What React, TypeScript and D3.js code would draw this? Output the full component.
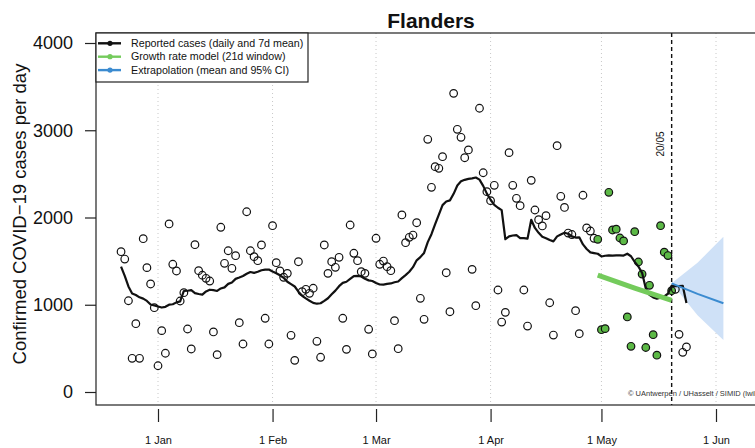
import React, { useEffect, useRef } from "react";
import * as d3 from "d3";

// daily reported cases, first value is 22 Dec 2020 (day -10 counted from 1 Jan 2021)
const firstDay = -10;
const reportedCases = [
  1608, 1524, 1046, 386, 783, 386, 1757, 1425, 1238, 966,
  301, 703, 444, 1926, 1464, 1387, 1043, 1138, 722, 493,
  1688, 1390, 1338, 1303, 1272, 688, 428, 1888, 1475, 1619,
  1418, 1562, 794, 550, 2066, 1619, 1551, 1505, 1685, 845,
  550, 1906, 1482, 1387, 1315, 1360, 650, 363, 1493, 1150,
  1177, 1131, 1189, 581, 398, 1685, 1360, 1493, 1429, 1544,
  845, 489, 1914, 1590, 1505, 1379, 1360, 719, 436, 1762,
  1464, 1501, 1436, 1390, 817, 496, 2029, 1711, 1773, 1799,
  1940, 1074, 833, 2896, 2346, 2582, 2564, 2697, 1367, 920,
  3423, 3011, 2919, 2685, 2774, 1406, 989, 3252, 2513, 2296,
  2193, 2369, 1169, 802, 913, 2743, 2369, 2220, 2135, 1169,
  756, 2426, 2086, 1975, 1903, 2021, 1023, 653, 2823, 2243,
  2115, 1822, 1805, 932, 668, 2255, 1880, 1845, 1762, 1750,
  714, 726, 2289, 1857, 1866, 1765, 1731, 860, 524, 1837,
  1490, 1352, 510, 1223, 657, 422, 1906, 1602, 1564, 1161,
  1177, 661, 455, 516,
];
// 7d mean for the first six days (their window starts before the plotted data)
const earlyMean = [1436, 1330, 1210, 1130, 1112, 1085];

const modelStartDay = 119;
const referenceDay = 139; // 20/05

const growthDays = [119, 129, 139];
const growthValues = [1340, 1190, 1050];

const extrapDays = [139, 146, 153];
const extrapMean = [1245, 1125, 1017];
const extrapLower = [1245, 880, 596];
const extrapUpper = [1245, 1480, 1780];

const monthStarts = [0, 31, 59, 90, 120, 151];
const monthLabels = ["1 Jan", "1 Feb", "1 Mar", "1 Apr", "1 May", "1 Jun"];
const yTicks = [0, 1000, 2000, 3000, 4000];

const legendLabels = [
  "Reported cases (daily and 7d mean)",
  "Growth rate model (21d window)",
  "Extrapolation (mean and 95% CI)",
];

const BLACK = "#111";
const GREEN_LINE = "#74cb5c";
const GREEN_PT = "#5cb946";
const BLUE = "#3b8bd0";
const CI_FILL = "#cfe1f7";
const FONT = "'Liberation Sans', Arial, Helvetica, sans-serif";

const dayToDate = (d: number) => new Date(Date.UTC(2021, 0, 1 + d));

const FlandersChart = () => {
  const ref = useRef<SVGSVGElement | null>(null);

  useEffect(() => {
    if (!ref.current) return;
    const svg = d3.select(ref.current);
    svg.selectAll("*").remove();

    const width = 755;
    const height = 448;
    const left = 96;
    const top = 33;
    const bottom = 405;

    const x = d3
      .scaleUtc()
      .domain([dayToDate(0), dayToDate(151)])
      .range([158, 716]);
    const y = d3.scaleLinear().domain([0, 4000]).range([392, 43]);

    svg.attr("width", width).attr("height", height).style("font-family", FONT);

    // month gridlines
    svg
      .append("g")
      .selectAll("line")
      .data(monthStarts)
      .enter()
      .append("line")
      .attr("x1", (d) => x(dayToDate(d)))
      .attr("x2", (d) => x(dayToDate(d)))
      .attr("y1", top)
      .attr("y2", bottom)
      .attr("stroke", "#c8c8c8")
      .attr("stroke-width", 1)
      .attr("stroke-dasharray", "1,3");

    // extrapolation band
    const band = d3
      .area<number>()
      .x((d) => x(dayToDate(extrapDays[d])))
      .y0((d) => y(extrapLower[d]))
      .y1((d) => y(extrapUpper[d]));
    svg
      .append("path")
      .datum(extrapDays.map((_, i) => i))
      .attr("d", band)
      .attr("fill", CI_FILL)
      .attr("stroke", "none");

    // reference date
    const xr = x(dayToDate(referenceDay));
    svg
      .append("line")
      .attr("x1", xr)
      .attr("x2", xr)
      .attr("y1", top)
      .attr("y2", bottom)
      .attr("stroke", BLACK)
      .attr("stroke-width", 1.4)
      .attr("stroke-dasharray", "4,3");
    svg
      .append("text")
      .attr("transform", `translate(${xr - 8},144) rotate(-90)`)
      .attr("text-anchor", "middle")
      .attr("font-size", 10)
      .attr("fill", BLACK)
      .text("20/05");

    // daily points
    const points = reportedCases.map((v, i) => ({ day: firstDay + i, value: v }));
    svg
      .append("g")
      .selectAll("circle")
      .data(points)
      .enter()
      .append("circle")
      .attr("cx", (d) => x(dayToDate(d.day)))
      .attr("cy", (d) => y(d.value))
      .attr("r", 3.8)
      .attr("fill", (d) =>
        d.day >= modelStartDay && d.day <= referenceDay ? GREEN_PT : "none"
      )
      .attr("stroke", BLACK)
      .attr("stroke-width", 1.2);

    // 7 day mean
    const mean = reportedCases.map((v, i) => ({
      day: firstDay + i,
      value: i < 6 ? earlyMean[i] : (d3.mean(reportedCases.slice(i - 6, i + 1)) as number),
    }));
    const line = d3
      .line<{ day: number; value: number }>()
      .x((d) => x(dayToDate(d.day)))
      .y((d) => y(d.value));
    svg
      .append("path")
      .datum(mean)
      .attr("d", line)
      .attr("fill", "none")
      .attr("stroke", BLACK)
      .attr("stroke-width", 2.2)
      .attr("stroke-linejoin", "round");

    // growth model
    svg
      .append("path")
      .datum(growthDays.map((d, i) => ({ day: d, value: growthValues[i] })))
      .attr("d", line)
      .attr("fill", "none")
      .attr("stroke", GREEN_LINE)
      .attr("stroke-width", 5);

    // extrapolation mean
    svg
      .append("path")
      .datum(extrapDays.map((d, i) => ({ day: d, value: extrapMean[i] })))
      .attr("d", line)
      .attr("fill", "none")
      .attr("stroke", BLUE)
      .attr("stroke-width", 2);

    // frame
    svg
      .append("rect")
      .attr("x", left)
      .attr("y", top)
      .attr("width", 800)
      .attr("height", bottom - top)
      .attr("fill", "none")
      .attr("stroke", "#222")
      .attr("stroke-width", 1.2);

    // y axis
    const yAxis = svg
      .append("g")
      .attr("transform", `translate(${left},0)`)
      .call(d3.axisLeft(y).tickValues(yTicks).tickSize(11).tickPadding(12).tickFormat(d3.format("d")));
    yAxis.select(".domain").remove();
    yAxis.selectAll("line").attr("stroke", "#222").attr("stroke-width", 1.2);
    yAxis.selectAll("text").attr("font-size", 18).attr("font-family", FONT).attr("fill", BLACK);

    // x axis
    const xAxis = svg
      .append("g")
      .attr("transform", `translate(0,409)`)
      .call(
        d3
          .axisBottom(x)
          .tickValues(monthStarts.map(dayToDate))
          .tickFormat((_, i) => monthLabels[i])
          .tickSize(13)
          .tickPadding(14)
      );
    xAxis.select(".domain").remove();
    xAxis.selectAll("line").attr("stroke", "#222").attr("stroke-width", 1.2);
    xAxis.selectAll("text").attr("font-size", 11).attr("font-family", FONT).attr("fill", BLACK);

    // y title
    svg
      .append("text")
      .attr("transform", "translate(26,214) rotate(-90)")
      .attr("text-anchor", "middle")
      .attr("font-size", 18.5)
      .attr("fill", BLACK)
      .text("Confirmed COVID\u221219 cases per day");

    // title
    svg
      .append("text")
      .attr("x", 431)
      .attr("y", 28)
      .attr("text-anchor", "middle")
      .attr("font-size", 21)
      .attr("font-weight", "bold")
      .attr("fill", BLACK)
      .text("Flanders");

    // credit
    svg
      .append("text")
      .attr("x", 628)
      .attr("y", 396)
      .attr("font-size", 7.5)
      .attr("fill", "#333")
      .text("\u00a9 UAntwerpen / UHasselt / SIMID (lwillem)");

    // legend
    const legend = svg.append("g");
    legend
      .append("rect")
      .attr("x", left)
      .attr("y", top)
      .attr("width", 212)
      .attr("height", 49)
      .attr("fill", "white")
      .attr("stroke", "#222")
      .attr("stroke-width", 1.2);
    const legendColors = [BLACK, GREEN_LINE, BLUE];
    const rows = legend
      .selectAll("g.row")
      .data(legendLabels)
      .enter()
      .append("g")
      .attr("class", "row")
      .attr("transform", (_, i) => `translate(0,${43.3 + i * 13.4})`);
    rows
      .append("line")
      .attr("x1", 98)
      .attr("x2", 121)
      .attr("stroke", (_, i) => legendColors[i])
      .attr("stroke-width", 2.4);
    rows
      .append("circle")
      .attr("cx", 110)
      .attr("r", 2.6)
      .attr("fill", (_, i) => legendColors[i]);
    rows
      .append("text")
      .attr("x", 131)
      .attr("dy", "0.35em")
      .attr("font-size", 10.7)
      .attr("fill", BLACK)
      .text((d) => d);
  }, []);

  return <svg ref={ref} style={{ position: "absolute", left: 0, top: 0 }} />;
};

export default function App() {
  return <FlandersChart />;
}
